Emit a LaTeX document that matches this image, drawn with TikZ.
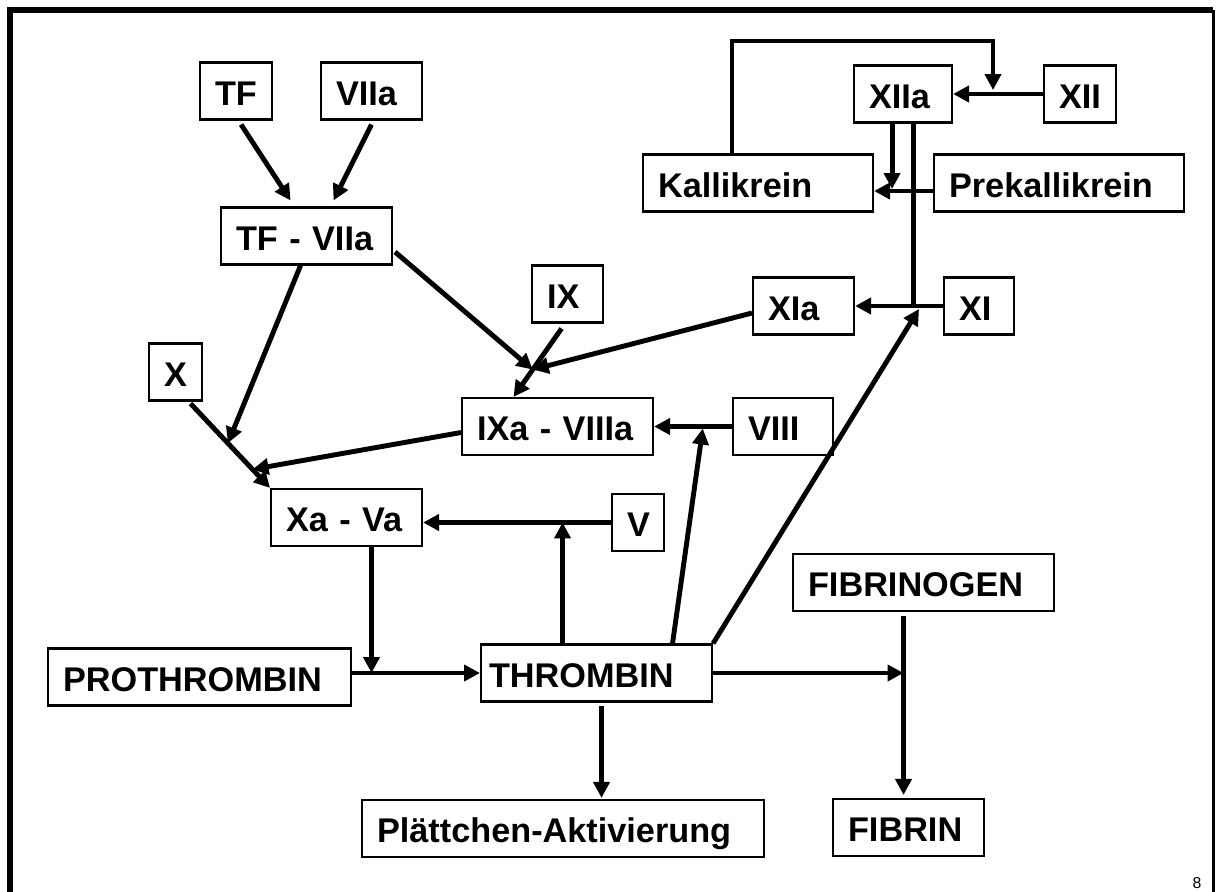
\documentclass[tikz,border=0pt]{standalone}
\usepackage{fontspec}
\setmainfont{Liberation Sans}
\usetikzlibrary{arrows.meta,calc}

\begin{document}
\begin{tikzpicture}[x=0.02cm, y=-0.02cm,
  box/.style={draw, line width=1.2pt, anchor=west, align=left, inner xsep=0.3cm, inner ysep=0pt,
    minimum height=1.14cm, text height=16pt, text depth=0pt, font=\fontsize{19.5}{23}\selectfont\bfseries},
  arr/.style={line width=2.8pt, -{Triangle[length=0.32cm,width=0.32cm]}},
  ln/.style={line width=2.8pt}]
\useasboundingbox (0,0) rectangle (1218,892);
% frame
\draw[line width=0.12cm] (10,892) -- (10,10) -- (1213,10);
\draw[line width=0.06cm] (1213,10) -- (1213,892);
\node[font=\fontsize{9}{10}\selectfont, anchor=south, inner sep=1pt] (pg) at (1197,891) {8};

% factors
\node[box, text width=0.84cm] (tf) at (199,91) {TF};
\node[box, text width=1.42cm] (viia) at (320,91) {VIIa};
\node[box, text width=2.82cm] (tfviia) at (220,236) {TF - VIIa};
\node[box, text width=1.36cm] (xiia) at (853,94) {XIIa};
\node[box, text width=0.84cm] (xii) at (1043,94) {XII};
\node[box, text width=4.00cm] (kall) at (642,183) {Kallikrein};
\node[box, text width=4.40cm] (prekall) at (933,183) {Prekallikrein};
\node[box, text width=0.82cm] (ix) at (531,294) {IX};
\node[box, text width=1.42cm] (xia) at (752,306) {XIa};
\node[box, text width=0.80cm] (xi) at (943,306) {XI};
\node[box, text width=0.46cm] (x) at (148,372) {X};
\node[box, text width=3.22cm] (ixviiia) at (461,426.5) {IXa - VIIIa};
\node[box, text width=1.40cm] (viii) at (732,426.5) {VIII};
\node[box, text width=2.42cm] (xava) at (270,517.5) {Xa - Va};
\node[box, text width=0.44cm] (v) at (611,522.5) {V};
\node[box, text width=4.62cm] (fibrinogen) at (792,582.5) {FIBRINOGEN};
\node[box, text width=5.46cm] (prothrombin) at (47,677) {PROTHROMBIN};
\node[box, text width=4.30cm, inner xsep=0.16cm] (thrombin) at (480,673) {THROMBIN};
\node[box, text width=7.44cm] (plaett) at (361,828.5) {Plättchen-Aktivierung};
\node[box, text width=2.42cm] (fibrin) at (832,827.5) {FIBRIN};

% tissue factor branch
\draw[arr] ($(tf.south)+(5,4)$) -- ($(tfviia.north)+(-16,-6)$);
\draw[arr] ($(viia.south)+(0,4)$) -- ($(tfviia.north)+(27,-6)$);
\coordinate (xs) at ($(x.south)+(15,2)$);
\draw[arr] (xs) -- (xava.north west);
\coordinate (xm1) at ($(xs)!0.47!(xava.north west)$);
\coordinate (xm2) at ($(xs)!0.78!(xava.north west)$);
\draw[arr] ($(tfviia.south)+(-6,0)$) -- (xm1);
\draw[arr] ($(ixviiia.west)+(0,6)$) -- (xm2);

% IX activation
\coordinate (ixs) at ($(ix.south)+(-6,5)$);
\coordinate (ixe) at ($(ixviiia.north)+(-44,0)$);
\draw[arr] (ixs) -- (ixe);
\coordinate (ixm) at ($(ixs)!0.6!(ixe)$);
\draw[arr] ($(tfviia.east)+(2,16)$) -- (ixm);
\draw[arr] ($(xia.west)+(0,7)$) -- (ixm);

% contact system
\draw[arr] (xii.west) -- (xiia.east);
\coordinate (lp) at (993,41);
\draw[arr] ($(kall.north)+(-26,0)$) |- (lp) -- ($(lp |- xii.west)+(0,-4)$);
\draw[arr] ($(prekall.west)+(0,8)$) -- ($(kall.east)+(0,8)$);
\coordinate (kj) at ($(xiia.south)+(-11,0)$);
\draw[arr] (kj) -- ($(kj |- kall.east)+(0,6)$);
\coordinate (xj) at ($(xiia.south)+(10,0)$);
\draw[ln] (xj) -- (xj |- xi.west);
\draw[arr] (xi.west) -- (xia.east);

% thrombin feedback
\draw[arr] (thrombin.north east) -- ($(xi.west)+(-24,3)$);
\coordinate (t8) at ($(thrombin.north)+(76,0)$);
\draw[arr] (t8) -- ($(viii.west)!0.375!(ixviiia.east)+(0,2)$);
\draw[arr] (viii.west) -- (ixviiia.east);
\coordinate (t5) at ($(thrombin.north)+(-34,0)$);
\draw[arr] (t5) -- (t5 |- v.west);
\draw[arr] (v.west) -- (v.west -| xava.east);

% common pathway
\coordinate (xd) at ($(xava.south)+(25,0)$);
\draw[arr] (xd) -- (xd |- thrombin.west);
\draw[arr] (prothrombin.east |- thrombin.west) -- (thrombin.west);
\coordinate (fg) at ($(fibrinogen.south)+(-20,4)$);
\draw[arr] (fg) -- ($(fg |- fibrin.north)+(0,-3)$);
\draw[arr] (thrombin.east) -- (thrombin.east -| fg);
\coordinate (tp) at ($(thrombin.south)+(5,3)$);
\draw[arr] (tp) -- ($(tp |- plaett.north)+(0,-1)$);
\end{tikzpicture}
\end{document}
